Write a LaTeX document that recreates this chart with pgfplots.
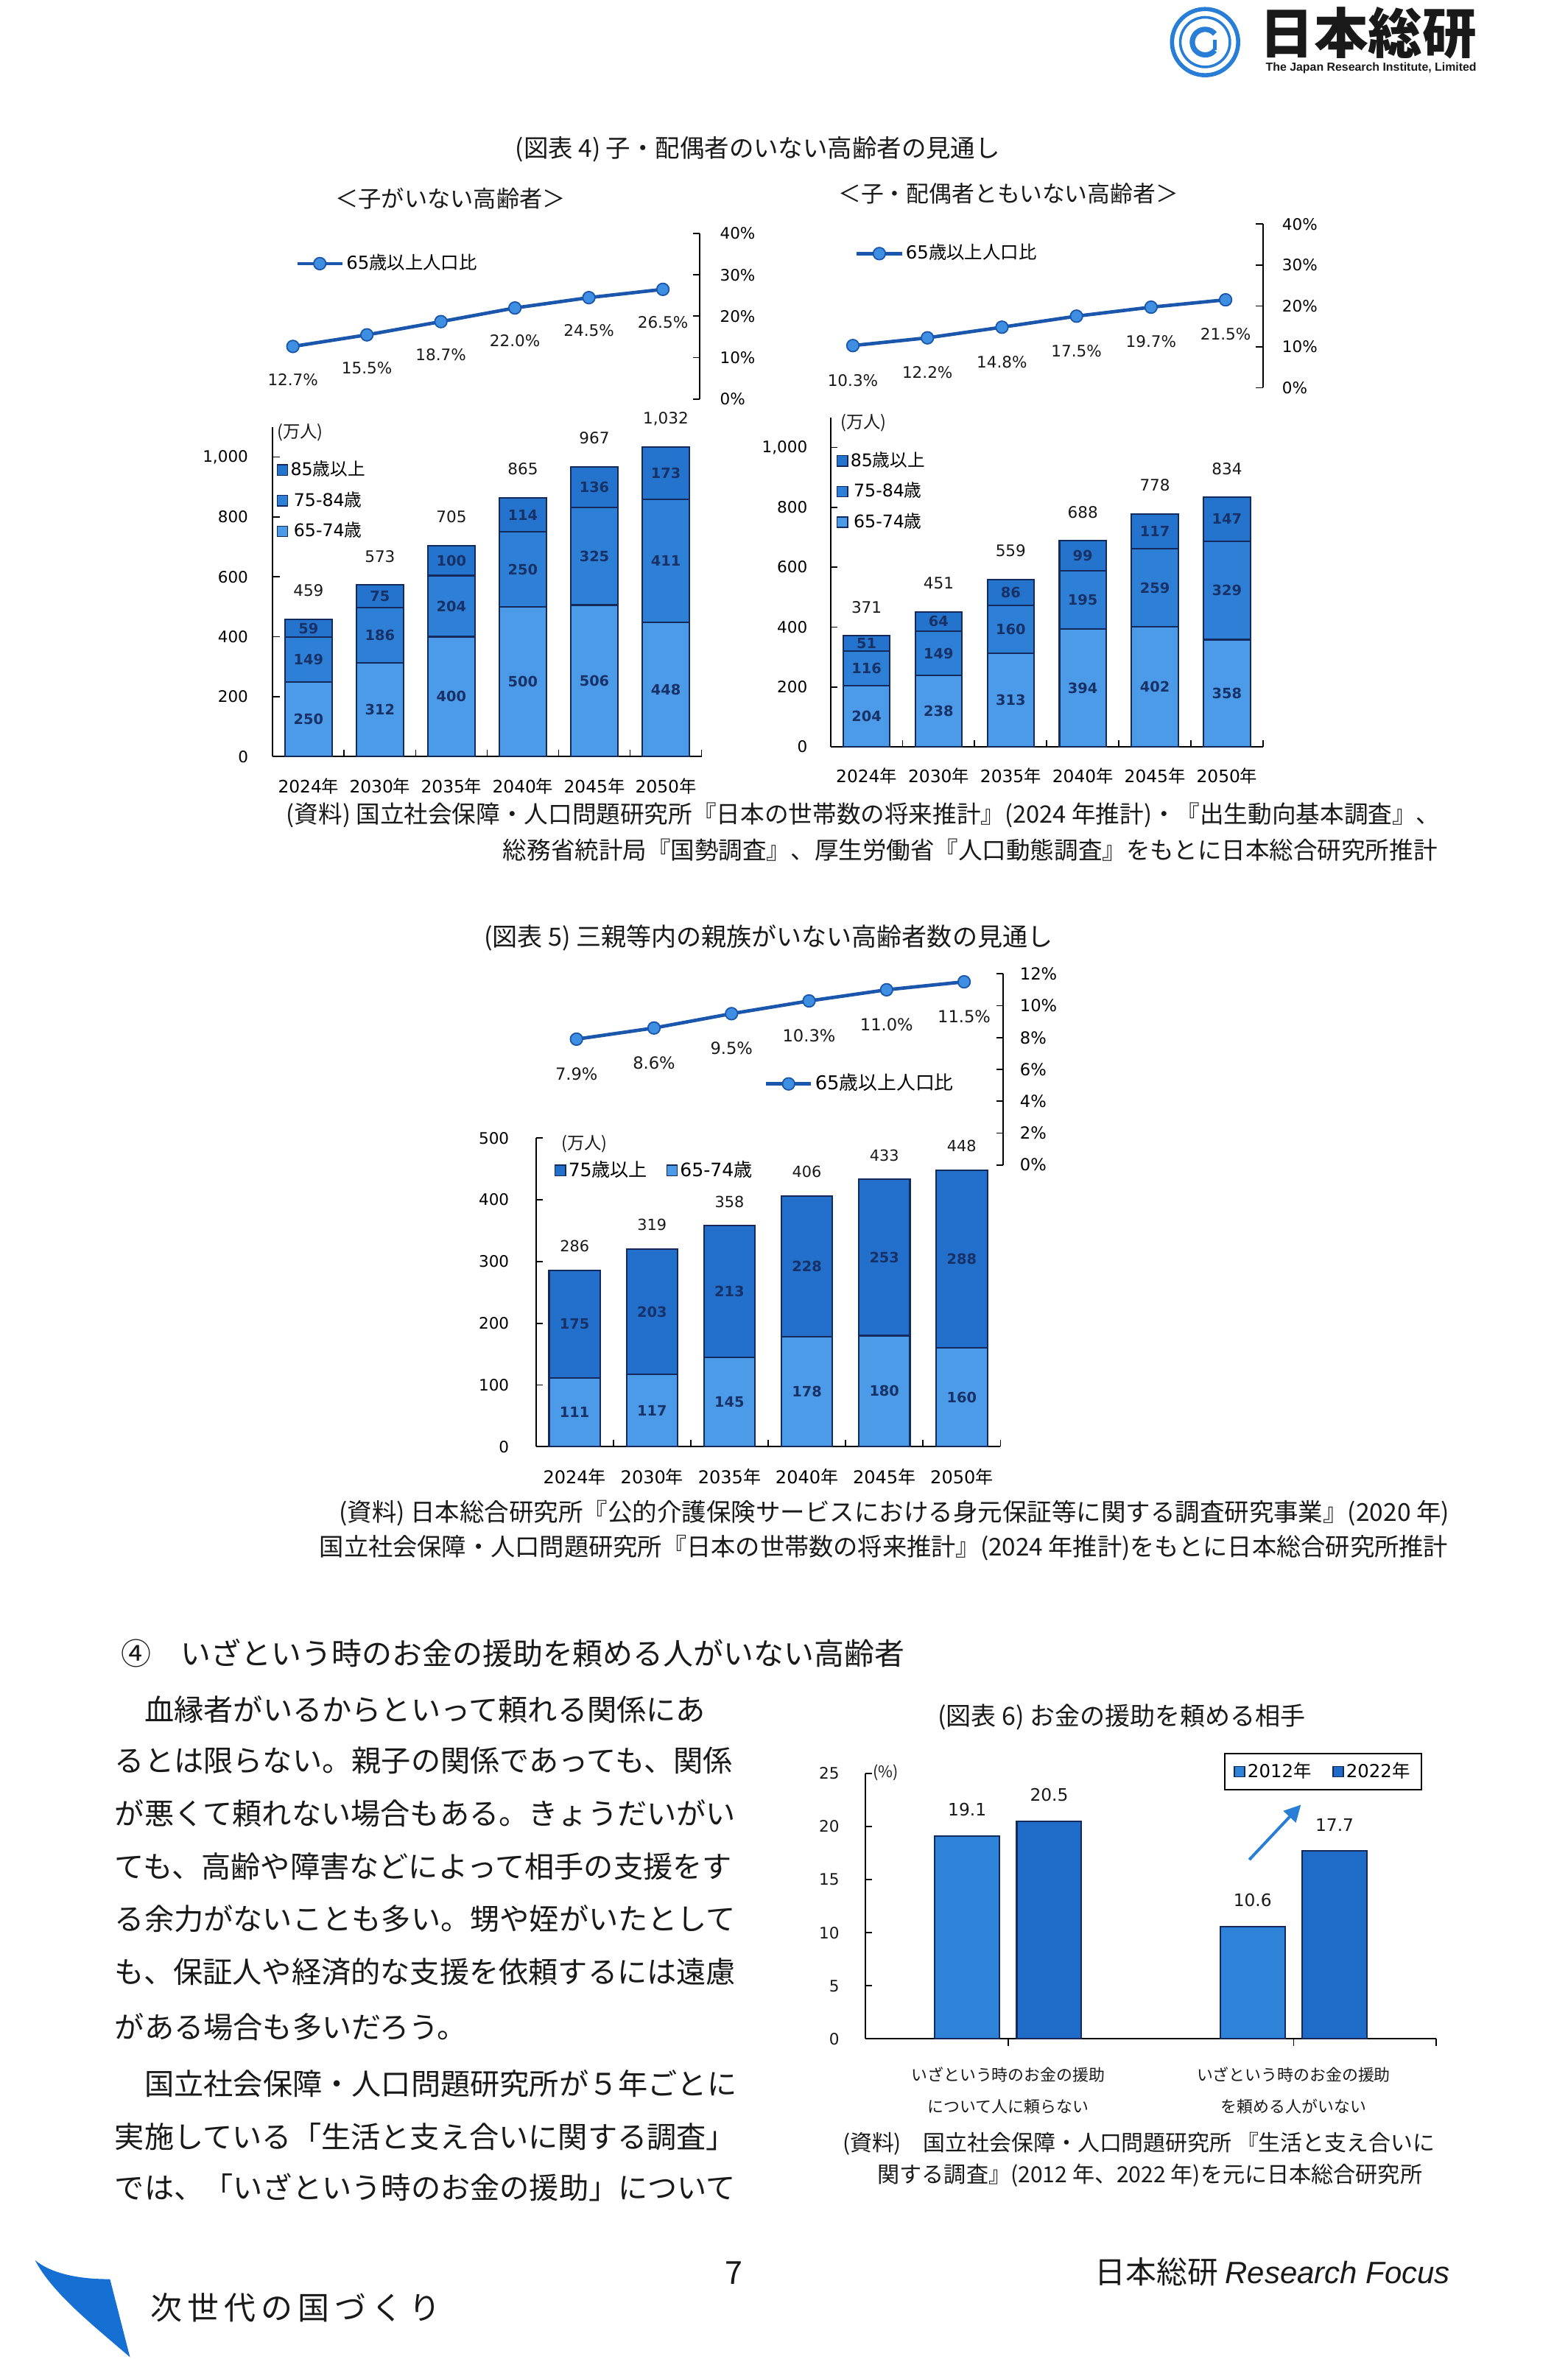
\documentclass[border=0pt]{standalone}
\usepackage{fontspec}
\setmainfont{Noto Sans CJK JP}
\newfontfamily\dv{DejaVu Sans}
\newfontfamily\lsans{Liberation Sans}
\usepackage{graphicx}
\usepackage{pgfplots}
\pgfplotsset{compat=1.18}
\usetikzlibrary{arrows.meta}

\newlength\pu \setlength\pu{0.2mm}
\newcommand\fitw[2]{\resizebox{#1\pu}{!}{#2}}
\DeclareRobustCommand\yr[1]{{\dv #1}年}
\DeclareRobustCommand\dn[1]{{\dv #1}}

\definecolor{cA}{RGB}{76,155,232}
\definecolor{cB}{RGB}{46,128,215}
\definecolor{cC}{RGB}{36,116,206}
\definecolor{c75}{RGB}{34,112,204}
\definecolor{c12}{RGB}{46,130,216}
\definecolor{c22}{RGB}{30,108,200}
\definecolor{navy}{RGB}{20,42,92}
\definecolor{lbl}{RGB}{24,50,104}
\definecolor{lineblue}{RGB}{26,86,172}
\definecolor{mk}{RGB}{62,142,226}
\definecolor{logob}{RGB}{40,125,215}
\definecolor{swoosh}{RGB}{22,112,212}
\definecolor{txt}{RGB}{25,25,25}

\pgfplotsset{
  /pgf/number format/.cd, 1000 sep={,}, assume math mode=true,
  /pgfplots/.cd,
  barax/.style={
    scale only axis, axis x line*=bottom, axis y line*=left,
    axis line style={line width=0.6pt, black},
    ymin=0, xmin=-0.5, xmax=5.5,
    xtick={0,...,5},
    xticklabels={\yr{2024},\yr{2030},\yr{2035},\yr{2040},\yr{2045},\yr{2050}},
    minor xtick={0.5,1.5,2.5,3.5,4.5,5.5},
    tick align=inside, major tick length=0.9mm, minor tick length=0.9mm,
    tick style={black, line width=0.5pt},
    major x tick style={draw=none},
    xticklabel style={font=\fontsize{6.5}{7}\selectfont, inner sep=0pt, anchor=center, yshift=-3.9mm},
    yticklabel style={font=\dv\fontsize{6}{7}\selectfont, inner sep=0pt, anchor=east, xshift=-3.2mm},
    ybar stacked,
    every axis plot/.append style={draw=navy, line width=0.6pt},
    legend image code/.code={\draw[#1, line width=0.4pt] (0mm,-0.7mm) rectangle (1.4mm,0.7mm);},
    legend style={draw=none, fill=none, font=\fontsize{6.6}{7}\selectfont, inner sep=0pt, row sep=1.0mm, nodes={inner sep=0.3mm}},
    reverse legend, clip=false,
  },
  lineax/.style={
    scale only axis, axis x line=none, axis y line*=right,
    axis line style={line width=0.6pt, black},
    ymin=0, xmin=-0.5, xmax=5.5,
    tick align=inside, major tick length=0.9mm, tick style={black, line width=0.5pt},
    yticklabel={\pgfmathprintnumber{\tick}\%},
    yticklabel style={font=\dv\fontsize{6}{7}\selectfont, inner sep=0pt, anchor=west},
    legend style={draw=none, fill=none, font=\fontsize{6.8}{8}\selectfont, inner sep=0pt, nodes={inner sep=0.3mm}},
    clip=false,
  },
  lineplot/.style={color=lineblue, line width=1.3pt, mark=*, mark size=2.3pt,
    mark options={fill=mk, draw=lineblue, line width=0.5pt},
    point meta=y,
    nodes near coords={\pgfmathprintnumber[fixed,fixed zerofill,precision=1]{\pgfplotspointmeta}\%},
    nodes near coords align=center,
    every node near coord/.append style={font=\dv\fontsize{6}{7}\selectfont, text=txt, inner sep=0pt}},
  lblax/.style={scale only axis, hide axis, clip=false, xmin=-0.5, xmax=5.5, ymin=0},
  seglbl/.style={draw=none, mark=none, forget plot, nodes near coords, point meta=explicit symbolic,
    nodes near coords align=center,
    every node near coord/.append style={font=\dv\bfseries\fontsize{5.4}{6}\selectfont, text=lbl, inner sep=0pt}},
  totlbl/.style={draw=none, mark=none, forget plot, nodes near coords, point meta=explicit symbolic,
    nodes near coords align=center,
    every node near coord/.append style={font=\dv\fontsize{6}{7}\selectfont, text=txt, inner sep=0pt}},
}

\begin{document}
\begin{tikzpicture}[x=0.2mm, y=0.2mm]
\fill[white] (0,0) rectangle (1042,-1568);

% ---------- logo ----------
\draw[logob, line width=0.55mm] (801,-28) circle (22);
\draw[logob, line width=0.35mm] (801,-28) circle (16.5);
\draw[logob, line width=0.7mm] (801,-28) ++(40:8.5) arc (40:320:8.5);
\draw[logob, line width=0.5mm] (801,-28) ++(-40:8.5) -- ++(0,7);
\node[anchor=west, inner sep=0, text=txt] at (837,-22) {\fitw{144}{\bfseries 日本総研}};
\node[anchor=west, inner sep=0, text=txt] at (841,-45) {\fitw{140}{\lsans\bfseries The Japan Research Institute, Limited}};

\begin{scope}[every node/.append style={text=txt}]
% ---------- figure 4 titles ----------
\node[anchor=west, inner sep=0] at (342.3,-99.3) {\fitw{322}{(図表 4) 子・配偶者のいない高齢者の見通し}};
\node[anchor=west, inner sep=0] at (222.6,-132.1) {\fitw{153}{＜子がいない高齢者＞}};
\node[anchor=west, inner sep=0] at (556.9,-128.9) {\fitw{226}{＜子・配偶者ともいない高齢者＞}};
\end{scope}

% ---------- 4a line ----------
\begin{axis}[lineax, at={(34.02mm,-53.04mm)}, anchor=south west, width=59.02mm, height=22mm,
  ymax=40, ytick={0,10,...,40}, yticklabel style={xshift=2.6mm},
  legend style={at={(0.088,0.818)}, anchor=west}]
\addplot[lineplot, every node near coord/.append style={yshift=-4.4mm}] table {
x y
0 12.7
1 15.5
2 18.7
3 22.0
4 24.5
5 26.5
};
\addlegendentry{\dn{65}歳以上人口比}
\end{axis}

% ---------- 4a bars ----------
\begin{axis}[barax, at={(36.26mm,-100.58mm)}, anchor=south west, width=57mm, height=43.82mm,
  ymax=1100, ytick={0,200,...,1000}, bar width=6.3mm,
  legend style={at={(0.008,0.906)}, anchor=north west}]
\addplot[fill=cA] coordinates {(0,250) (1,312) (2,400) (3,500) (4,506) (5,448)};
\addplot[fill=cB] coordinates {(0,149) (1,186) (2,204) (3,250) (4,325) (5,411)};
\addplot[fill=cC] coordinates {(0,59) (1,75) (2,100) (3,114) (4,136) (5,173)};
\legend{\dn{65-74}歳, \dn{75-84}歳, \dn{85}歳以上}
\end{axis}
\begin{axis}[lblax, at={(36.26mm,-100.58mm)}, anchor=south west, width=57mm, height=43.82mm, ymax=1100]
\addplot[seglbl] table[meta=l] {
x y l
0 125 250
0 324.5 149
0 428.5 59
1 156 312
1 405 186
1 535.5 75
2 200 400
2 502 204
2 654 100
3 250 500
3 625 250
3 807 114
4 253 506
4 668.5 325
4 899 136
5 224 448
5 653.5 411
5 945.5 173
};
\addplot[totlbl, every node near coord/.append style={yshift=3.8mm}] table[meta=l] {
x y l
0 458 459
1 573 573
2 704 705
3 864 865
4 967 967
5 1032 1,032
};
\end{axis}
\node[text=txt] at (199.5,-287.4) {\fontsize{6.5}{7}\selectfont (万人)};

% ---------- 4b line ----------
\begin{axis}[lineax, at={(108.42mm,-51.54mm)}, anchor=south west, width=59.46mm, height=21.74mm,
  ymax=40, ytick={0,10,...,40}, yticklabel style={xshift=2.5mm},
  legend style={at={(0.087,0.82)}, anchor=west}]
\addplot[lineplot, every node near coord/.append style={yshift=-4.6mm}] table {
x y
0 10.3
1 12.2
2 14.8
3 17.5
4 19.7
5 21.5
};
\addlegendentry{\dn{65}歳以上人口比}
\end{axis}

% ---------- 4b bars ----------
\begin{axis}[barax, at={(110.4mm,-99.28mm)}, anchor=south west, width=57.5mm, height=43.78mm,
  ymax=1100, ytick={0,200,...,1000}, bar width=6.2mm, yticklabel style={xshift=0.2mm},
  legend style={at={(0.013,0.905)}, anchor=north west}]
\addplot[fill=cA] coordinates {(0,204) (1,238) (2,313) (3,394) (4,402) (5,358)};
\addplot[fill=cB] coordinates {(0,116) (1,149) (2,160) (3,195) (4,259) (5,329)};
\addplot[fill=cC] coordinates {(0,51) (1,64) (2,86) (3,99) (4,117) (5,147)};
\legend{\dn{65-74}歳, \dn{75-84}歳, \dn{85}歳以上}
\end{axis}
\begin{axis}[lblax, at={(110.4mm,-99.28mm)}, anchor=south west, width=57.5mm, height=43.78mm, ymax=1100]
\addplot[seglbl] table[meta=l] {
x y l
0 102 204
0 262 116
0 345.5 51
1 119 238
1 312.5 149
1 419 64
2 156.5 313
2 393 160
2 516 86
3 197 394
3 491.5 195
3 638.5 99
4 201 402
4 531.5 259
4 719.5 117
5 179 358
5 522.5 329
5 760.5 147
};
\addplot[totlbl, every node near coord/.append style={yshift=3.8mm}] table[meta=l] {
x y l
0 371 371
1 451 451
2 559 559
3 688 688
4 778 778
5 834 834
};
\end{axis}
\node[text=txt] at (574,-280.9) {\fontsize{6.5}{7}\selectfont (万人)};

\begin{scope}[every node/.append style={text=txt}]
% ---------- source 4 ----------
\node[anchor=west, inner sep=0] at (190,-542) {\fitw{767}{(資料) 国立社会保障・人口問題研究所『日本の世帯数の将来推計』(2024 年推計)・『出生動向基本調査』、}};
\node[anchor=west, inner sep=0] at (334,-565) {\fitw{621}{総務省統計局『国勢調査』、厚生労働省『人口動態調査』をもとに日本総合研究所推計}};

% ---------- figure 5 ----------
\node[anchor=west, inner sep=0] at (321.3,-623.4) {\fitw{378}{(図表 5) 三親等内の親族がいない高齢者数の見通し}};
\end{scope}

\begin{axis}[lineax, at={(71.48mm,-154.86mm)}, anchor=south west, width=61.84mm, height=25.4mm,
  ymax=12, ytick={0,2,...,12}, yticklabel style={xshift=2.2mm, font=\dv\fontsize{6.3}{7}\selectfont},
  legend style={at={(0.486,0.424)}, anchor=west, font=\fontsize{7.2}{8}\selectfont}]
\addplot[lineplot, every node near coord/.append style={yshift=-4.6mm, font=\dv\fontsize{6.3}{7}\selectfont}] table {
x y
0 7.9
1 8.6
2 9.5
3 10.3
4 11.0
5 11.5
};
\addlegendentry{\dn{65}歳以上人口比}
\end{axis}

\begin{axis}[barax, at={(71.24mm,-192.32mm)}, anchor=south west, width=61.76mm, height=41.04mm,
  ymax=500, ytick={0,100,...,500}, bar width=6.8mm,
  yticklabel style={xshift=-0.3mm},
  xticklabel style={font=\fontsize{6.7}{7}\selectfont, yshift=-0.1mm},
  legend columns=-1,
  legend style={at={(0.039,0.895)}, anchor=west, font=\fontsize{7}{8}\selectfont, /tikz/every even column/.append style={column sep=2.2mm}}]
\addplot[fill=cA] coordinates {(0,111) (1,117) (2,145) (3,178) (4,180) (5,160)};
\addplot[fill=c75] coordinates {(0,175) (1,203) (2,213) (3,228) (4,253) (5,288)};
\legend{\dn{65-74}歳, \dn{75}歳以上}
\end{axis}
\begin{axis}[lblax, at={(71.24mm,-192.32mm)}, anchor=south west, width=61.76mm, height=41.04mm, ymax=500]
\addplot[seglbl] table[meta=l] {
x y l
0 55.5 111
0 198.5 175
1 58.5 117
1 218.5 203
2 72.5 145
2 251.5 213
3 89 178
3 292 228
4 90 180
4 306.5 253
5 80 160
5 304 288
};
\addplot[totlbl, every node near coord/.append style={yshift=3.2mm, font=\dv\fontsize{5.8}{7}\selectfont}] table[meta=l] {
x y l
0 286 286
1 320 319
2 358 358
3 406 406
4 433 433
5 448 448
};
\end{axis}
\node[text=txt] at (388.5,-760.6) {\fontsize{6.5}{7}\selectfont (万人)};

\begin{scope}[every node/.append style={text=txt}]
% ---------- source 5 ----------
\node[anchor=west, inner sep=0] at (225,-1006) {\fitw{738}{(資料) 日本総合研究所『公的介護保険サービスにおける身元保証等に関する調査研究事業』(2020 年)}};
\node[anchor=west, inner sep=0] at (212,-1029) {\fitw{750}{国立社会保障・人口問題研究所『日本の世帯数の将来推計』(2024 年推計)をもとに日本総合研究所推計}};

% ---------- section heading and body ----------
\node[anchor=west, inner sep=0, font=\fontsize{11.4}{12}\selectfont] at (80,-1099) {④　いざという時のお金の援助を頼める人がいない高齢者};
\end{scope}
\begin{scope}[every node/.style={anchor=west, inner sep=0, text=txt, font=\fontsize{11.2}{12}\selectfont}]
\node at (95.7,-1136.4) {血縁者がいるからといって頼れる関係にあ};
\node at (76,-1170) {るとは限らない。親子の関係であっても、関係};
\node at (76,-1205.2) {が悪くて頼れない場合もある。きょうだいがい};
\node at (76,-1240.4) {ても、高齢や障害などによって相手の支援をす};
\node at (76,-1275.5) {る余力がないことも多い。甥や姪がいたとして};
\node at (76,-1310.6) {も、保証人や経済的な支援を依頼するには遠慮};
\node at (76,-1347.2) {がある場合も多いだろう。};
\node at (95.7,-1385.1) {国立社会保障・人口問題研究所が５年ごとに};
\node at (76,-1420.2) {実施している「生活と支え合いに関する調査」};
\node at (76,-1453.9) {では、「いざという時のお金の援助」について};
\end{scope}

% ---------- figure 6 ----------
\node[anchor=west, inner sep=0, text=txt] at (623,-1141.6) {\fitw{244.5}{(図表 6) お金の援助を頼める相手}};
\begin{axis}[scale only axis, at={(115.04mm,-271.04mm)}, anchor=south west, width=75.9mm, height=35.28mm,
  axis x line*=bottom, axis y line*=left, axis line style={line width=0.6pt, black},
  ymin=0, ymax=25, xmin=-0.5, xmax=1.5, ytick={0,5,...,25},
  xtick={0,1},
  xticklabels={{いざという時のお金の援助\\について人に頼らない},{いざという時のお金の援助\\を頼める人がいない}},
  extra x ticks={1.5}, extra x tick labels={},
  tick align=inside, major tick length=0.9mm, tick style={black, line width=0.5pt},
  xticklabel style={font=\fontsize{6.1}{12}\selectfont, align=center, inner sep=0pt, anchor=north, yshift=-2.8mm, text=txt},
  yticklabel style={font=\dv\fontsize{6}{7}\selectfont, inner sep=0pt, anchor=east, xshift=-3.4mm, text=txt},
  ybar=2.3mm, bar width=8.6mm,
  every axis plot/.append style={draw=navy, line width=0.6pt},
  nodes near coords={\pgfmathprintnumber[fixed,fixed zerofill,precision=1]{\pgfplotspointmeta}},
  nodes near coords align=center,
  every node near coord/.append style={font=\dv\fontsize{6.5}{7}\selectfont, text=txt, inner sep=0pt, yshift=3.5mm},
  legend columns=2,
  legend image code/.code={\draw[#1, line width=0.4pt] (0mm,-0.7mm) rectangle (1.4mm,0.7mm);},
  legend style={at={(0.628,1.077)}, anchor=north west, draw=black, line width=0.6pt, fill=white,
    font=\fontsize{6.8}{7}\selectfont, inner xsep=1.2mm, inner ysep=0.8mm, nodes={inner sep=0.3mm},
    /tikz/every even column/.append style={column sep=2.5mm}},
  clip=false]
\addplot[fill=c12] coordinates {(0,19.1) (1,10.6)};
\addplot[fill=c22] coordinates {(0,20.5) (1,17.7)};
\legend{\yr{2012}, \yr{2022}}
\end{axis}
\node[anchor=west, inner sep=0, text=txt] at (580,-1178.4) {\fontsize{6}{7}\selectfont (\%)};
\draw[logob, line width=1.1pt, -{Triangle[length=2.2mm,width=2.2mm]}] (830.4,-1236.1) -- (864.7,-1199.6);

\begin{scope}[every node/.append style={text=txt}]
\node[anchor=west, inner sep=0] at (559.7,-1424.7) {\fitw{393.6}{(資料)　国立社会保障・人口問題研究所 『生活と支え合いに}};
\node[anchor=west, inner sep=0] at (583,-1446) {\fitw{362}{関する調査』(2012 年、2022 年)を元に日本総合研究所}};

% ---------- footer ----------
\node[anchor=west, inner sep=0] at (99.7,-1534) {\fitw{192.7}{次\,世\,代\,の\,国\,づ\,く\,り}};
\node at (488,-1511) {\fontsize{12}{14}\selectfont 7};
\node[anchor=west, inner sep=0] at (727.5,-1509.8) {\fitw{235.9}{日本総研 {\lsans\itshape Research Focus}}};
\end{scope}
\fill[swoosh] (23.3,-1502.3) .. controls (35,-1512) and (55,-1515) .. (73.1,-1514.9) -- (86.4,-1566.8) .. controls (65,-1548) and (35,-1525) .. cycle;
\end{tikzpicture}
\end{document}
